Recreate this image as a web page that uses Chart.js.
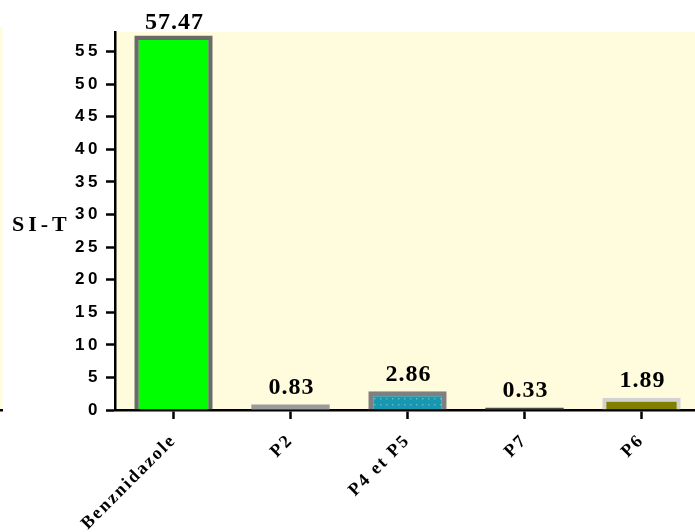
<!DOCTYPE html>
<html>
<head>
<meta charset="utf-8">
<script src="https://cdn.jsdelivr.net/npm/chart.js@4/dist/chart.umd.min.js"></script>
<style>
  html, body { margin: 0; padding: 0; background: #fff; overflow: hidden; }
  #wrap { width: 700px; height: 532px; }
</style>
</head>
<body>
<div id="wrap"><canvas id="chart" width="700" height="532"></canvas></div>
<script>
// data
const categories = ['Benznidazole', 'P2', 'P4 et P5', 'P7', 'P6'];
const siValues = [57.47, 0.83, 2.86, 0.33, 1.89];
const yTicks = [0, 5, 10, 15, 20, 25, 30, 35, 40, 45, 50, 55];
const yTitle = 'SI-T';

// dotted teal fill for "P4 et P5"
function dotPattern() {
  const c = document.createElement('canvas');
  c.width = 6; c.height = 6;
  const g = c.getContext('2d');
  g.fillStyle = '#1797b1';
  g.fillRect(0, 0, 6, 6);
  g.fillStyle = '#62b9c9';
  g.fillRect(2, 2, 1.5, 1.5);
  return g.createPattern(c, 'repeat');
}

const ctx = document.getElementById('chart').getContext('2d');

const decor = {
  id: 'decor',
  beforeLayout(chart) {
    chart.ctx.letterSpacing = '3.5px';
  },
  afterLayout(chart) {
    // x labels are spaced a bit tighter than the y ticks
    const s = chart.scales.x;
    if (!s._spaced) {
      const orig = s.drawLabels.bind(s);
      s.drawLabels = function (area) {
        this.ctx.save();
        this.ctx.letterSpacing = '2px';
        orig(area);
        this.ctx.restore();
      };
      s._spaced = true;
    }
  },
  beforeDraw(chart) {
    const { ctx, chartArea } = chart;
    ctx.save();
    ctx.fillStyle = '#fffcdd';
    ctx.fillRect(chartArea.left, chartArea.top, chartArea.right - chartArea.left, chartArea.bottom - chartArea.top);
    // strip of the neighbouring panel at the left edge
    ctx.fillRect(0, 27, 2.5, chartArea.bottom - 28);
    ctx.fillStyle = '#000';
    ctx.fillRect(0, chartArea.bottom - 1, 3, 2.5);
    ctx.restore();
    ctx.letterSpacing = '3.5px';
  },
  afterDraw(chart) {
    const { ctx } = chart;
    ctx.save();
    // y-axis title, horizontal
    ctx.letterSpacing = '4px';
    ctx.font = 'bold 22px "Liberation Serif"';
    ctx.fillStyle = '#000';
    ctx.textAlign = 'left';
    ctx.textBaseline = 'middle';
    const yScale = chart.scales.y;
    ctx.fillText(yTitle, 12, yScale.getPixelForValue(28.3));

    // value labels above bars
    ctx.letterSpacing = '1px';
    ctx.font = 'bold 24px "Liberation Serif"';
    ctx.textAlign = 'center';
    ctx.textBaseline = 'bottom';
    const meta = chart.getDatasetMeta(0);
    meta.data.forEach((bar, i) => {
      ctx.fillText(siValues[i].toFixed(2), bar.x + 1, Math.max(bar.y - 5, 35));
    });
    ctx.restore();
  }
};

new Chart(ctx, {
  type: 'bar',
  data: {
    labels: categories,
    datasets: [{
      data: siValues,
      backgroundColor: ['#00ff00', '#9b9b9b', dotPattern(), '#4a4a4a', '#7f7f00'],
      borderColor: ['#6a6a6a', '#9b9b9b', '#7f7f7f', '#4a4a4a', '#d2d2d2'],
      borderWidth: [4.5, 0, 5, 0, 4],
      borderSkipped: 'start',
      barPercentage: 0.67,
      categoryPercentage: 1
    }]
  },
  options: {
    responsive: false,
    animation: false,
    layout: { padding: { top: 32, right: 0, left: 0, bottom: 0 } },
    plugins: {
      legend: { display: false },
      tooltip: { enabled: false }
    },
    scales: {
      x: {
        grid: {
          offset: false,
          drawOnChartArea: false,
          drawTicks: true,
          tickLength: 9,
          tickWidth: 2.5,
          tickColor: '#000'
        },
        border: { color: '#000', width: 2.5 },
        ticks: {
          color: '#000',
          minRotation: 45,
          maxRotation: 45,
          padding: 11,
          font: { family: 'Liberation Serif', size: 18, weight: 'bold' }
        },
        afterFit(scale) { scale.height = 122; }
      },
      y: {
        min: 0,
        max: 58,
        grid: {
          drawOnChartArea: false,
          drawTicks: true,
          tickLength: 9,
          tickWidth: 2.5,
          tickColor: '#000'
        },
        border: { color: '#000', width: 2.5 },
        afterBuildTicks(scale) {
          scale.ticks = yTicks.map(v => ({ value: v }));
        },
        ticks: {
          color: '#000',
          padding: 5,
          font: { family: 'Liberation Sans', size: 17, weight: 'bold' }
        },
        afterFit(scale) { scale.width = 115; }
      }
    }
  },
  plugins: [decor]
});
</script>
</body>
</html>
